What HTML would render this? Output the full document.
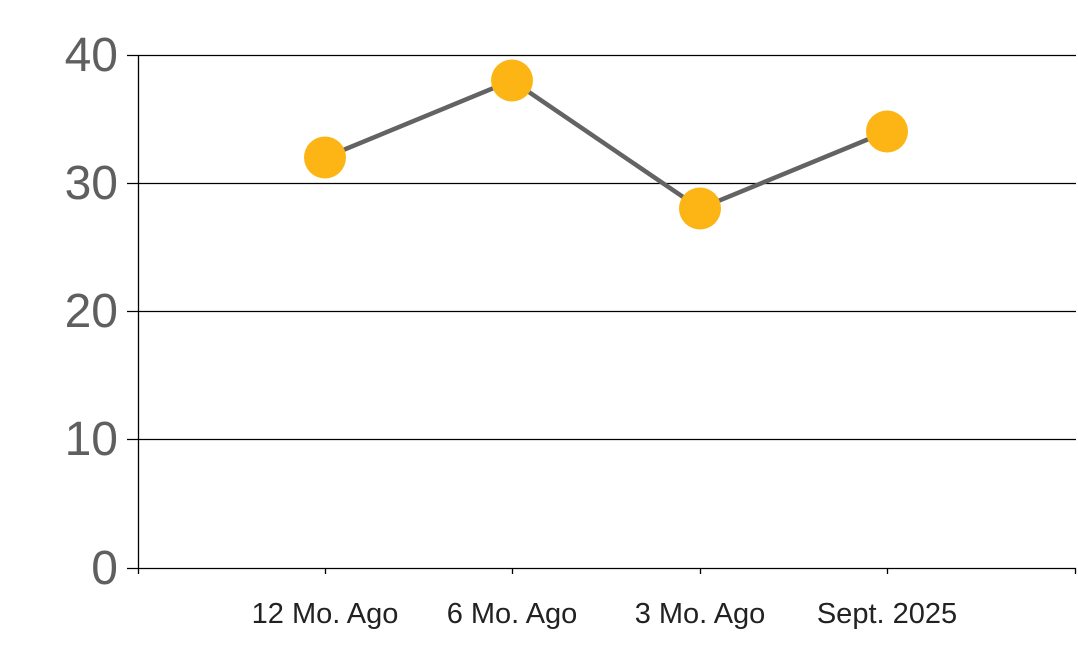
<!DOCTYPE html>
<html><head><style>body{margin:0;background:#fff}svg{display:block}</style></head>
<body>
<svg width="1078" height="663" xmlns="http://www.w3.org/2000/svg">
<g stroke="#000" stroke-width="1.3">
<line x1="127" y1="55.5" x2="1076" y2="55.5"/>
<line x1="127" y1="183.5" x2="1076" y2="183.5"/>
<line x1="127" y1="311.5" x2="1076" y2="311.5"/>
<line x1="127" y1="439.5" x2="1076" y2="439.5"/>
<line x1="127" y1="568.5" x2="1076" y2="568.5"/>
<line x1="138.5" y1="55" x2="138.5" y2="574"/>
<line x1="325.5" y1="568" x2="325.5" y2="574"/>
<line x1="512.5" y1="568" x2="512.5" y2="574"/>
<line x1="700.5" y1="568" x2="700.5" y2="574"/>
<line x1="887.5" y1="568" x2="887.5" y2="574"/>
<line x1="1075.5" y1="568" x2="1075.5" y2="574"/>
</g>
<g font-family="Liberation Sans, sans-serif" font-size="48" fill="#5f5f5f" text-anchor="end">
<text x="118" y="71">40</text>
<text x="118" y="199">30</text>
<text x="118" y="327">20</text>
<text x="118" y="455">10</text>
<text x="118" y="584">0</text>
</g>
<g font-family="Liberation Sans, sans-serif" font-size="29" fill="#222" text-anchor="middle">
<text x="325" y="623">12 Mo. Ago</text>
<text x="512" y="623">6 Mo. Ago</text>
<text x="700" y="623">3 Mo. Ago</text>
<text x="887" y="623">Sept. 2025</text>
</g>
<polyline points="325,157.5 512,80.5 700,208.5 887,131.5" fill="none" stroke="#636363" stroke-width="4.5"/>
<g fill="#FDB515">
<circle cx="325" cy="157.5" r="21"/>
<circle cx="512" cy="80.5" r="21"/>
<circle cx="700" cy="208.5" r="21"/>
<circle cx="887" cy="131.5" r="21"/>
</g>
</svg>
</body></html>
